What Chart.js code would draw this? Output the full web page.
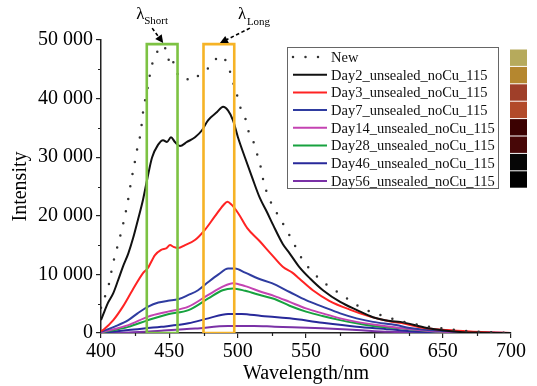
<!DOCTYPE html>
<html>
<head>
<meta charset="utf-8">
<script src="https://cdn.jsdelivr.net/npm/chart.js@4.4.0/dist/chart.umd.min.js"></script>
<style>
  html, body { margin: 0; padding: 0; background: #fff; }
  #wrap { width: 537px; height: 386px; }
</style>
</head>
<body>
<div id="wrap"><canvas id="myChart" width="537" height="386"></canvas></div>
<script>
// emission spectra, wavelength (nm) -> intensity
const wlNew = [400, 403.7, 406.5, 408, 410, 413, 416, 419.5, 422, 424, 425.5, 427, 429, 430.5, 431.7, 433.4, 434.6, 436, 437.6, 440, 442, 444.4, 446.3, 448, 449.2, 451.7, 453.4, 455, 457.8, 461, 463.4, 466.4, 468.8, 473.7, 478.5, 482.9, 488.3, 492.7, 495.6, 498, 500.5, 503, 506.6, 508.3, 511.9, 514.4, 516.8, 519, 523, 530, 535, 539, 543, 548, 554, 561, 569, 576.6, 584, 592.4, 601, 609, 617, 625, 633, 642, 650, 660, 670, 680, 690, 700];
const valNew = [4300, 6800, 9000, 11000, 13000, 15600, 18400, 22300, 25800, 28300, 30100, 32100, 34100, 37200, 39200, 40600, 42600, 44300, 46000, 47400, 48300, 48800, 49000, 47400, 46600, 47400, 45700, 44800, 43600, 43600, 43300, 43000, 43500, 44300, 45200, 46500, 47300, 45700, 43700, 41600, 39900, 37600, 36000, 34100, 32400, 30400, 28400, 25800, 23000, 19900, 17900, 16200, 14400, 12300, 10600, 9000, 7600, 6500, 5200, 4100, 3350, 2700, 2200, 1700, 1350, 1000, 800, 500, 300, 150, 80, 0];

const wlDay2 = [400, 401.5, 405, 409, 412.5, 416, 420, 423.5, 427, 430.7, 433.7, 437.3, 441.7, 445.4, 448.3, 451.2, 454.1, 457.8, 462.9, 468.8, 473.9, 478.3, 484.9, 489.3, 492.9, 496.6, 500.2, 505.4, 510.5, 516.3, 521.5, 526, 533, 538, 545, 553, 562.4, 575, 587.3, 599, 611.5, 619, 638.5, 662.7, 680, 700];
const valDay2 = [2200, 3100, 5100, 6800, 9000, 11300, 13600, 16200, 19300, 22700, 26100, 29900, 32100, 32900, 32600, 33400, 32600, 31900, 32600, 33400, 34600, 36300, 37700, 38600, 38000, 36300, 33400, 29900, 26600, 23000, 20600, 18400, 15200, 13600, 11300, 9300, 7300, 5300, 3900, 2700, 2050, 1900, 850, 170, 50, 0];

const wlDay3 = [400, 402, 409, 416, 423, 431, 434, 439.5, 444, 448, 450.5, 453, 456.5, 461.5, 469, 476, 483, 489.5, 492.5, 495.5, 500.5, 507, 516, 524, 533, 540, 545, 555, 567, 582, 597, 611, 620, 633, 653, 670, 687, 700];
const valDay3 = [300, 600, 2200, 4500, 7300, 10300, 11000, 13300, 14200, 14500, 15000, 14700, 14500, 15000, 15900, 17600, 19800, 21800, 22400, 21900, 20400, 17900, 15700, 13600, 11300, 10300, 9300, 7300, 5500, 4000, 2800, 2000, 1700, 1000, 500, 250, 100, 0];

const wlDay7 = [400, 410, 420, 427, 434.5, 442, 449, 456.5, 464, 471, 478.5, 486, 493, 498, 505.5, 515, 525, 538, 550, 562, 575, 587, 599, 616, 626, 650, 687, 700];
const valDay7 = [200, 1100, 2200, 3400, 4500, 5200, 5500, 5750, 6500, 7300, 8700, 10000, 11000, 11000, 10300, 9300, 8500, 7000, 5600, 4500, 3350, 2500, 1900, 1350, 850, 350, 50, 0];

const wlDay14 = [400, 420, 434.5, 449, 464, 478.5, 489, 496.5, 505.5, 517.5, 527, 538, 550, 562, 575, 587, 602, 616, 650, 700];
const valDay14 = [100, 1350, 2800, 3650, 4500, 6500, 7900, 8500, 8000, 7000, 6300, 5300, 4200, 3350, 2500, 1900, 1350, 950, 200, 0];

const wlDay28 = [400, 420, 434.5, 449, 464, 478.5, 489, 496.5, 505.5, 517.5, 527, 538, 550, 562, 575, 587, 599, 616, 650, 700];
const valDay28 = [50, 1050, 2200, 3200, 3900, 5900, 7300, 7600, 7200, 6400, 5800, 4650, 3650, 2900, 2200, 1650, 1200, 850, 150, 0];

const wlDay46 = [400, 420, 444, 464, 478.5, 493, 503, 517.5, 527, 538, 562, 587, 611, 626, 650, 700];
const valDay46 = [0, 500, 1050, 1650, 2500, 3250, 3250, 2900, 2750, 2500, 1750, 1080, 630, 300, 100, 0];

const wlDay56 = [400, 420, 444, 469, 493, 512, 527, 540, 562, 587, 611, 650, 700];
const valDay56 = [0, 100, 400, 750, 1200, 1200, 1080, 1000, 800, 500, 200, 50, 0];

// marked bands (nm) and their height
const shortBand = [433.5, 456];
const longBand = [475, 497.5];
const bandTop = 49300;

const swatchColors = ['#b6aa5c', '#b5872f', '#9f3f29', '#b24a2a', '#3b0101', '#470707', '#060606', '#000000'];

const FONT = '"Liberation Serif", "Times New Roman", serif';

function pts(xs, ys) {
    return xs.map((v, i) => ({x: v, y: ys[i]}));
}
function band(b) {
    return [{x: b[0], y: 0}, {x: b[0], y: bandTop}, {x: b[1], y: bandTop}, {x: b[1], y: 0}, {x: b[0], y: 0}];
}
function curve(label, xs, ys, color) {
    return {label: label, data: pts(xs, ys), borderColor: color, backgroundColor: color,
            borderWidth: 2, pointRadius: 0, cubicInterpolationMode: 'monotone', fill: false};
}

const datasets = [
    {label: '', data: band(shortBand), borderColor: '#7dc243', borderWidth: 2.6, pointRadius: 0, order: -1},
    {label: '', data: band(longBand), borderColor: '#f6b326', borderWidth: 2.6, pointRadius: 0, order: -1},
    Object.assign(curve('New', wlNew, valNew, '#333333'), {borderDash: [0, 12.5], borderCapStyle: 'round', borderWidth: 2.5}),
    curve('Day2_unsealed_noCu_115', wlDay2, valDay2, '#111111'),
    curve('Day3_unsealed_noCu_115', wlDay3, valDay3, '#ff2323'),
    curve('Day7_unsealed_noCu_115', wlDay7, valDay7, '#2f3ca0'),
    curve('Day14_unsealed_noCu_115', wlDay14, valDay14, '#c443b2'),
    curve('Day28_unsealed_noCu_115', wlDay28, valDay28, '#17a23f'),
    curve('Day46_unsealed_noCu_115', wlDay46, valDay46, '#28299a'),
    curve('Day56_unsealed_noCu_115', wlDay56, valDay56, '#7a31a6')
];

function arrow(ctx, x1, y1, x2, y2) {
    const a = Math.atan2(y2 - y1, x2 - x1);
    ctx.setLineDash([3.5, 2.5]);
    ctx.beginPath();
    ctx.moveTo(x1, y1);
    ctx.lineTo(x2 - 6 * Math.cos(a), y2 - 6 * Math.sin(a));
    ctx.stroke();
    ctx.setLineDash([]);
    ctx.beginPath();
    ctx.moveTo(x2, y2);
    ctx.lineTo(x2 - 8 * Math.cos(a) + 4 * Math.sin(a), y2 - 8 * Math.sin(a) - 4 * Math.cos(a));
    ctx.lineTo(x2 - 8 * Math.cos(a) - 4 * Math.sin(a), y2 - 8 * Math.sin(a) + 4 * Math.cos(a));
    ctx.closePath();
    ctx.fill();
}

const decorations = {
    id: 'decorations',
    afterDraw(chart) {
        const ctx = chart.ctx;
        const xs = chart.scales.x, ys = chart.scales.y;
        const area = chart.chartArea;
        ctx.save();

        // minor ticks
        ctx.strokeStyle = '#222';
        ctx.lineWidth = 1.2;
        ctx.beginPath();
        for (let v = 425; v < 700; v += 50) {
            const p = Math.round(xs.getPixelForValue(v)) + 0.5;
            ctx.moveTo(p, area.bottom);
            ctx.lineTo(p, area.bottom + 3);
        }
        for (let v = 5000; v < 50000; v += 10000) {
            const p = Math.round(ys.getPixelForValue(v)) + 0.5;
            ctx.moveTo(area.left, p);
            ctx.lineTo(area.left - 3, p);
        }
        ctx.stroke();

        // lambda labels with arrows
        ctx.fillStyle = '#000';
        ctx.strokeStyle = '#000';
        ctx.lineWidth = 1.6;
        const sx = xs.getPixelForValue(445.5), sy = ys.getPixelForValue(bandTop) - 1;
        const lx = xs.getPixelForValue(487), ly = sy;
        arrow(ctx, sx - 11, sy - 15, sx, sy);
        arrow(ctx, lx + 30, ly - 15, lx, ly);
        ctx.textBaseline = 'alphabetic';
        ctx.textAlign = 'left';
        ctx.font = '17px ' + FONT;
        ctx.fillText('λ', sx - 27, sy - 24);
        ctx.fillText('λ', lx + 18, ly - 24);
        ctx.font = '11px ' + FONT;
        ctx.fillText('Short', sx - 19, sy - 19);
        ctx.fillText('Long', lx + 27, ly - 18);

        // legend box
        const bx = 287, by = 47, bw = 211, bh = 141;
        ctx.strokeStyle = '#666';
        ctx.lineWidth = 1;
        ctx.strokeRect(bx + 0.5, by + 0.5, bw, bh);
        ctx.font = '14.5px ' + FONT;
        ctx.textBaseline = 'middle';
        let row = 0;
        chart.data.datasets.forEach(ds => {
            if (!ds.label) return;
            const yy = by + 10 + row * 17.7;
            ctx.strokeStyle = ds.borderColor;
            ctx.lineWidth = ds.borderWidth;
            ctx.lineCap = ds.borderCapStyle || 'butt';
            ctx.setLineDash(ds.borderDash || []);
            ctx.beginPath();
            ctx.moveTo(bx + 6, yy);
            ctx.lineTo(bx + 40, yy);
            ctx.stroke();
            ctx.setLineDash([]);
            ctx.lineCap = 'butt';
            ctx.fillStyle = '#111';
            ctx.fillText(ds.label, bx + 44, yy + 1);
            row++;
        });

        // colour swatches at the right
        swatchColors.forEach((c, i) => {
            ctx.fillStyle = c;
            ctx.fillRect(510, 49.5 + i * 17.4, 17, 16.4);
        });
        ctx.restore();
    }
};

const config = {
    type: 'line',
    data: {datasets: datasets},
    options: {
        responsive: false,
        animation: false,
        layout: {padding: {top: 40, right: 26, left: 0, bottom: 0}},
        plugins: {
            legend: {display: false},
            tooltip: {enabled: false}
        },
        scales: {
            x: {
                type: 'linear',
                min: 400,
                max: 700,
                afterFit: s => { s.height = 53; },
                border: {display: true, color: '#222', width: 1.5},
                grid: {display: true, drawOnChartArea: false, drawTicks: true, tickLength: 5, color: '#222', lineWidth: 1.2},
                ticks: {stepSize: 50, color: '#000', padding: 2, maxRotation: 0,
                        font: {family: FONT, size: 20}},
                title: {display: true, text: 'Wavelength/nm', color: '#000', padding: {top: 0, bottom: 0},
                        font: {family: FONT, size: 20}}
            },
            y: {
                min: 0,
                max: 50000,
                afterFit: s => { s.width = 101; },
                border: {display: true, color: '#222', width: 1.5},
                grid: {display: true, drawOnChartArea: false, drawTicks: true, tickLength: 5, color: '#222', lineWidth: 1.2},
                ticks: {stepSize: 10000, color: '#000', padding: 3,
                        font: {family: FONT, size: 20},
                        callback: v => String(v).replace(/\B(?=(\d{3})+(?!\d))/g, ' ')},
                title: {display: true, text: 'Intensity', color: '#000', padding: {top: 9, bottom: 0},
                        font: {family: FONT, size: 20}}
            }
        }
    },
    plugins: [decorations]
};

const myChart = new Chart(document.getElementById('myChart'), config);
</script>
</body>
</html>
